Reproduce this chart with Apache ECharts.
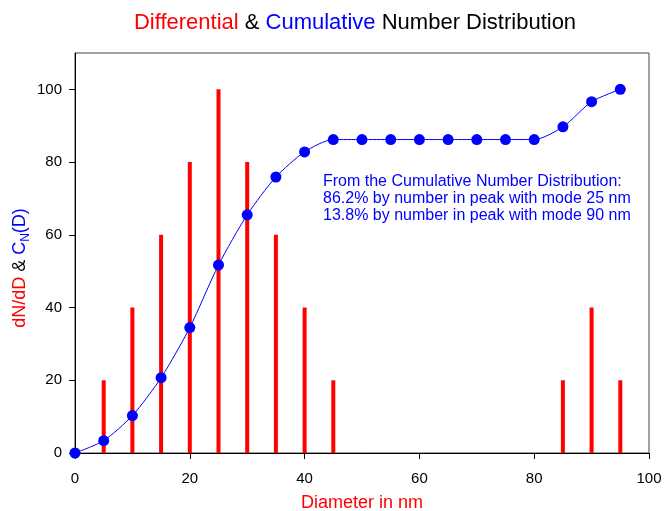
<!DOCTYPE html>
<html><head><meta charset="utf-8">
<script src="https://cdn.jsdelivr.net/npm/echarts@6/dist/echarts.min.js"></script>
<style>html,body{margin:0;padding:0;background:#fff}#c{width:664px;height:511px}</style>
</head><body><div id="c"></div>
<script>
const barDiameters = [5, 10, 15, 20, 25, 30, 35, 40, 45, 85, 90, 95];
const barValues = [20, 40, 60, 80, 100, 80, 60, 40, 20, 20, 40, 20];
const cumDiameters = [0, 5, 10, 15, 20, 25, 30, 35, 40, 45, 50, 55, 60, 65, 70, 75, 80, 85, 90, 95];
const cumValues = [0, 3.4, 10.3, 20.7, 34.5, 51.7, 65.5, 75.9, 82.8, 86.2, 86.2, 86.2, 86.2, 86.2, 86.2, 86.2, 86.2, 89.7, 96.6, 100];
const xTicks = [0, 20, 40, 60, 80, 100];
const yTicks = [0, 20, 40, 60, 80, 100];
const noteLines = [
  'From the Cumulative Number Distribution:',
  '86.2% by number in peak with mode 25 nm',
  '13.8% by number in peak with mode 90 nm'
];

const font = '"Liberation Sans", Arial, sans-serif';
const chart = echarts.init(document.getElementById('c'), null, {renderer: 'canvas'});
chart.setOption({
  animation: false,
  backgroundColor: '#fff',
  title: {
    text: '{r|Differential} {k|&} {b|Cumulative} {k|Number Distribution}',
    left: 350, top: 7, textAlign: 'center',
    textStyle: {
      fontFamily: font, fontSize: 22, fontWeight: 'normal',
      rich: {
        r: {color: '#ff0000', fontSize: 22, fontFamily: font},
        k: {color: '#000', fontSize: 22, fontFamily: font},
        b: {color: '#0000ff', fontSize: 22, fontFamily: font}
      }
    }
  },
  grid: {left: 75, right: 15, top: 53, bottom: 58, show: true, borderColor: '#444', borderWidth: 1, containLabel: false, outerBoundsMode: 'none'},
  xAxis: {
    type: 'value', min: 0, max: 100,
    name: 'Diameter in nm', nameLocation: 'middle', nameGap: 41,
    nameTextStyle: {color: '#ff0000', fontSize: 18, fontFamily: font},
    axisLine: {lineStyle: {color: '#000', width: 1}},
    axisTick: {customValues: xTicks, length: 6, lineStyle: {color: '#000'}},
    axisLabel: {customValues: xTicks, color: '#000', fontSize: 15, fontFamily: font, margin: 18},
    splitLine: {show: false}
  },
  yAxis: {
    type: 'value', min: 0, max: 110,
    axisLine: {show: true, lineStyle: {color: '#000', width: 1}},
    axisTick: {show: true, customValues: yTicks, length: 6, lineStyle: {color: '#000'}},
    axisLabel: {customValues: yTicks, color: '#000', fontSize: 15, fontFamily: font, margin: 13},
    splitLine: {show: false}
  },
  series: [
    {
      type: 'bar', barWidth: 4,
      itemStyle: {color: '#ff0000'},
      data: barDiameters.map((d, i) => [d, barValues[i]]),
      z: 2
    },
    {
      type: 'line', smooth: 0.25,
      symbol: 'circle', symbolSize: 11,
      lineStyle: {color: '#0000ff', width: 1},
      itemStyle: {color: '#0000ff'},
      data: cumDiameters.map((d, i) => [d, cumValues[i]]),
      z: 3
    }
  ],
  graphic: [
    {
      type: 'text', left: 323, top: 173,
      style: {
        text: noteLines.join('\n'), fill: '#0000ff',
        font: '16px ' + font, lineHeight: 17
      }
    },
    {
      type: 'text', x: 20, y: 268, rotation: Math.PI / 2,
      style: {
        text: '{r|dN/dD} {k|&} {b|C}{s|N}{b|(D)}',
        align: 'center', verticalAlign: 'middle',
        font: '18px ' + font,
        rich: {
          r: {fill: '#ff0000', fontSize: 18, fontFamily: font, lineHeight: 24},
          k: {fill: '#000', fontSize: 18, fontFamily: font, lineHeight: 24},
          b: {fill: '#0000ff', fontSize: 18, fontFamily: font, lineHeight: 24},
          s: {fill: '#0000ff', fontSize: 12, fontFamily: font, lineHeight: 24, verticalAlign: 'bottom'}
        }
      }
    }
  ]
});
</script></body></html>
